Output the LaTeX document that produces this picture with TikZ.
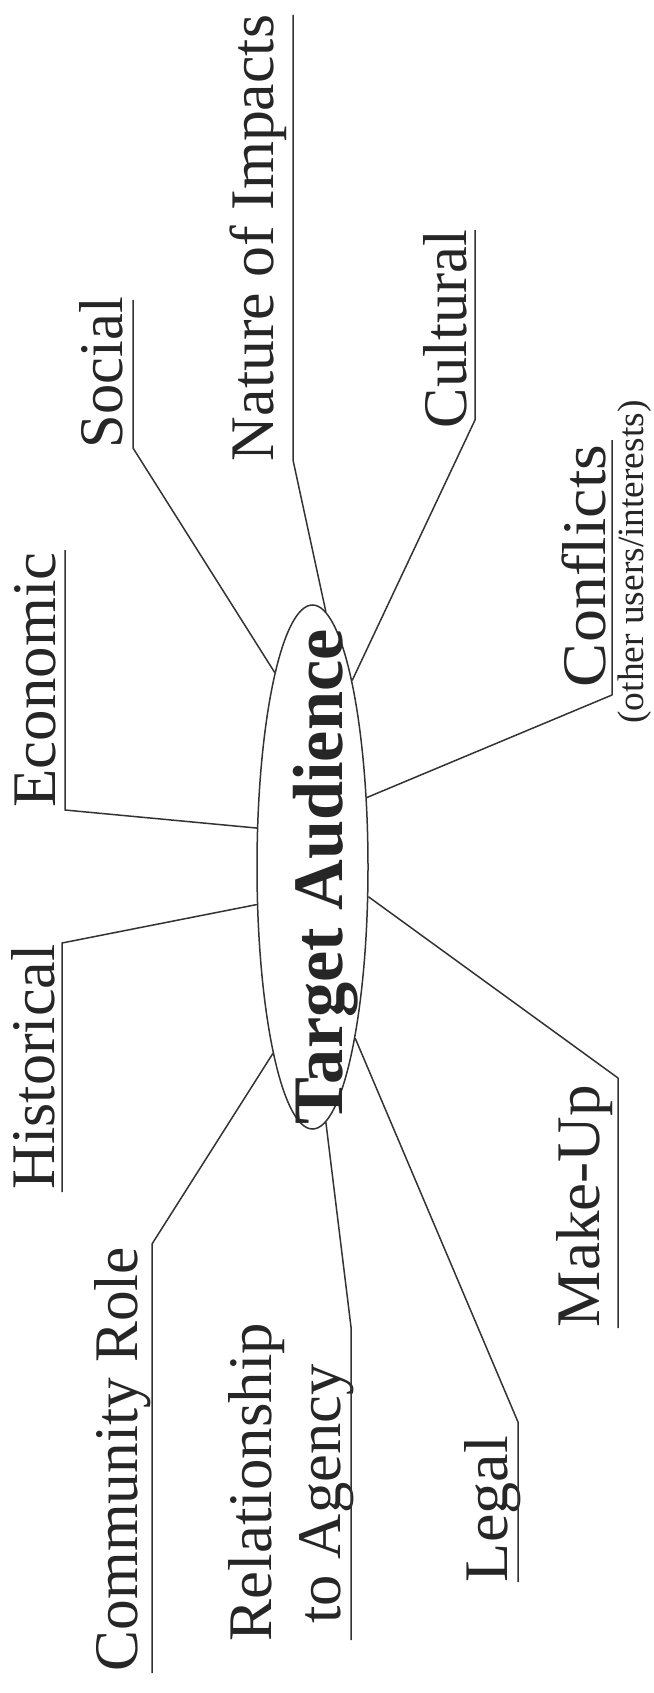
\documentclass[tikz,border=0pt]{standalone}
\usepackage{fontspec}
\setmainfont{Liberation Serif}
\newfontfamily\tnr{Liberation Serif}
\usepackage{graphicx}
\usetikzlibrary{shapes.geometric}
\tikzset{
  lab/.style={rotate=90, anchor=base, inner sep=0pt, text=black!85, font=\tnr\fontsize{62}{62}\selectfont},
  conn/.style={draw=black!80, line width=1.5pt, line join=round},
}
\newcommand\fitlen[2]{\resizebox{#1pt}{\height}{#2}}
\begin{document}
\begin{tikzpicture}[x=1pt,y=-1pt]
\useasboundingbox (0,0) rectangle (653,1693);
\fill[white] (0,0) rectangle (653,1693);
% centre
\node[draw=black!80, line width=1.5pt, ellipse, minimum width=111pt, minimum height=524pt, inner sep=0pt] (ta) at (312.5,867) {};
\node[lab, font=\tnr\bfseries\fontsize{71}{71}\selectfont] (tat) at (342,877) {\fitlen{495}{Target Audience}};
% labels
\node[lab] (nat) at (273,238) {\fitlen{446}{Nature of Impacts}};
\node[lab] (soc) at (122,372.5) {\fitlen{151}{Social}};
\node[lab] (cul) at (466,329) {\fitlen{198}{Cultural}};
\node[lab] (con) at (605,566) {\fitlen{242}{Conflicts}};
\node[lab, font=\tnr\fontsize{37}{37}\selectfont] (oth) at (643,562) {\fitlen{323}{(other users/interests)}};
\node[lab] (eco) at (55,680) {\fitlen{255}{Economic}};
\node[lab] (his) at (54,1067) {\fitlen{245}{Historical}};
\node[lab] (mak) at (599,1206) {\fitlen{242}{Make-Up}};
\node[lab] (com) at (137,1459) {\fitlen{424}{Community Role}};
\node[lab] (rel) at (271,1482) {\fitlen{318}{Relationship}};
\node[lab] (age) at (340,1494) {\fitlen{259}{to Agency}};
\node[lab] (leg) at (507,1509) {\fitlen{146}{Legal}};
% underline ends and corners
\coordinate (natT) at (293,15);   \coordinate (natC) at (293,460);
\coordinate (socT) at (133,300);  \coordinate (socC) at (133,448);
\coordinate (culT) at (475,230);  \coordinate (culC) at (475,420);
\coordinate (conT) at (612,440);  \coordinate (conC) at (612,695);
\coordinate (ecoT) at (65,550);   \coordinate (ecoC) at (65,810);
\coordinate (hisC) at (62,943);   \coordinate (hisB) at (62,1192);
\coordinate (makC) at (618,1078); \coordinate (makB) at (618,1328);
\coordinate (comC) at (152,1244); \coordinate (comB) at (152,1673);
\coordinate (relC) at (351,1327); \coordinate (relB) at (351,1640);
\coordinate (legC) at (518,1422); \coordinate (legB) at (518,1582);
% connectors
\draw[conn] (natT) -- (natC) -- (ta.87);
\draw[conn] (socT) -- (socC) -- (ta.101);
\draw[conn] (culT) -- (culC) -- (ta.78);
\draw[conn] (conT) -- (conC) -- (ta.52);
\draw[conn] (ecoT) -- (ecoC) -- (ta.145);
\draw[conn] (hisB) -- (hisC) -- (ta.214);
\draw[conn] (makB) -- (makC) -- (ta.332);
\draw[conn] (comB) -- (comC) -- (ta.258);
\draw[conn] (relB) -- (relC) -- (ta.273);
\draw[conn] (legB) -- (legC) -- (ta.284);
\end{tikzpicture}
\end{document}
